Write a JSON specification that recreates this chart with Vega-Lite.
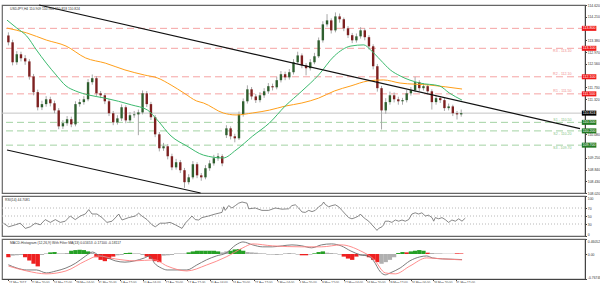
{
"$schema": "https://vega.github.io/schema/vega-lite/v6.json",
"padding": {"left": 0, "top": 2, "right": 0, "bottom": 0},
"spacing": 3,
"bounds": "flush",
"background": "white",
"config": {
  "view": {"stroke": "#666", "strokeWidth": 1.2},
  "font": "Liberation Sans",
  "axis": {"grid": false, "labelFont": "Liberation Sans", "labelColor": "#333", "tickColor": "#444", "domainColor": "#444", "labelFontSize": 3.4, "tickSize": 1.5, "labelPadding": 0.8, "labelOverlap": false, "labelFlush": false}
},
"datasets": {
  "candles": [
{"i":0,"o":113.55,"h":113.66,"l":113.2,"c":113.31},{"i":3,"o":113.31,"h":113.4,"l":112.5,"c":112.61},{"i":6,"o":112.61,"h":113.0,"l":112.52,"c":112.89},{"i":9,"o":112.89,"h":112.98,"l":112.64,"c":112.75},{"i":12,"o":112.75,"h":112.86,"l":112.52,"c":112.64},{"i":15,"o":112.64,"h":112.72,"l":112.0,"c":112.11},{"i":18,"o":112.11,"h":112.2,"l":111.45,"c":111.56},{"i":21,"o":111.56,"h":111.65,"l":110.92,"c":111.03},{"i":24,"o":111.03,"h":111.26,"l":110.93,"c":111.14},{"i":27,"o":111.14,"h":111.42,"l":111.05,"c":111.31},{"i":30,"o":111.31,"h":111.4,"l":111.06,"c":111.17},{"i":33,"o":111.17,"h":111.26,"l":110.82,"c":110.92},{"i":36,"o":110.92,"h":111.0,"l":110.26,"c":110.36},{"i":39,"o":110.36,"h":110.58,"l":110.27,"c":110.47},{"i":42,"o":110.47,"h":110.72,"l":110.38,"c":110.61},{"i":45,"o":110.61,"h":110.7,"l":110.33,"c":110.43},{"i":48,"o":110.43,"h":111.24,"l":110.36,"c":111.14},{"i":51,"o":111.14,"h":111.32,"l":111.05,"c":111.21},{"i":54,"o":111.21,"h":111.42,"l":111.12,"c":111.31},{"i":57,"o":111.31,"h":112.02,"l":111.24,"c":111.91},{"i":60,"o":111.91,"h":112.18,"l":111.82,"c":112.05},{"i":63,"o":112.05,"h":112.12,"l":111.43,"c":111.52},{"i":66,"o":111.52,"h":111.6,"l":111.35,"c":111.45},{"i":69,"o":111.45,"h":111.53,"l":111.14,"c":111.24},{"i":72,"o":111.24,"h":111.32,"l":110.72,"c":110.82},{"i":75,"o":110.82,"h":110.9,"l":110.4,"c":110.5},{"i":78,"o":110.5,"h":110.75,"l":110.42,"c":110.64},{"i":81,"o":110.64,"h":111.13,"l":110.55,"c":111.03},{"i":84,"o":111.03,"h":111.1,"l":110.47,"c":110.57},{"i":87,"o":110.57,"h":110.86,"l":110.48,"c":110.75},{"i":90,"o":110.75,"h":110.9,"l":110.66,"c":110.78},{"i":93,"o":110.78,"h":110.95,"l":110.05,"c":110.85},{"i":96,"o":110.85,"h":111.62,"l":110.78,"c":111.52},{"i":99,"o":111.52,"h":111.6,"l":111.04,"c":111.14},{"i":102,"o":111.14,"h":111.22,"l":110.58,"c":110.68},{"i":105,"o":110.68,"h":110.76,"l":109.98,"c":110.08},{"i":108,"o":110.08,"h":110.16,"l":109.48,"c":109.59},{"i":111,"o":109.59,"h":109.78,"l":109.5,"c":109.66},{"i":114,"o":109.66,"h":109.74,"l":109.2,"c":109.31},{"i":117,"o":109.31,"h":109.4,"l":108.82,"c":108.92},{"i":120,"o":108.92,"h":109.22,"l":108.84,"c":109.1},{"i":123,"o":109.1,"h":109.18,"l":108.72,"c":108.82},{"i":126,"o":108.82,"h":108.9,"l":108.2,"c":108.4},{"i":129,"o":108.4,"h":108.68,"l":108.32,"c":108.57},{"i":132,"o":108.57,"h":109.14,"l":108.5,"c":109.03},{"i":135,"o":109.03,"h":109.1,"l":108.54,"c":108.64},{"i":138,"o":108.64,"h":108.72,"l":108.45,"c":108.57},{"i":141,"o":108.57,"h":109.0,"l":108.5,"c":108.89},{"i":144,"o":108.89,"h":109.17,"l":108.8,"c":109.06},{"i":147,"o":109.06,"h":109.36,"l":108.98,"c":109.24},{"i":150,"o":109.24,"h":109.42,"l":109.15,"c":109.31},{"i":153,"o":109.31,"h":109.38,"l":108.96,"c":109.06},{"i":156,"o":110.05,"h":110.4,"l":109.95,"c":110.29},{"i":159,"o":110.29,"h":110.36,"l":109.9,"c":110.01},{"i":162,"o":110.01,"h":110.1,"l":109.8,"c":109.94},{"i":165,"o":109.94,"h":110.88,"l":109.88,"c":110.78},{"i":168,"o":110.78,"h":111.34,"l":110.7,"c":111.24},{"i":171,"o":111.24,"h":111.8,"l":111.16,"c":111.66},{"i":174,"o":111.66,"h":111.74,"l":111.3,"c":111.41},{"i":177,"o":111.41,"h":111.5,"l":111.18,"c":111.28},{"i":180,"o":111.28,"h":111.56,"l":111.2,"c":111.45},{"i":183,"o":111.45,"h":111.7,"l":111.36,"c":111.59},{"i":186,"o":111.59,"h":111.88,"l":111.5,"c":111.77},{"i":189,"o":111.77,"h":111.86,"l":111.62,"c":111.73},{"i":192,"o":111.73,"h":112.1,"l":111.66,"c":111.98},{"i":195,"o":111.98,"h":112.3,"l":111.9,"c":112.19},{"i":198,"o":112.19,"h":112.28,"l":111.98,"c":112.08},{"i":201,"o":112.08,"h":112.37,"l":112.0,"c":112.26},{"i":204,"o":112.26,"h":112.72,"l":112.18,"c":112.61},{"i":207,"o":112.61,"h":112.98,"l":112.54,"c":112.85},{"i":210,"o":112.85,"h":112.92,"l":112.4,"c":112.5},{"i":213,"o":112.5,"h":112.58,"l":112.15,"c":112.4},{"i":216,"o":112.4,"h":112.72,"l":112.32,"c":112.61},{"i":219,"o":112.61,"h":112.94,"l":112.54,"c":112.82},{"i":222,"o":112.82,"h":113.48,"l":112.76,"c":113.38},{"i":225,"o":113.38,"h":114.05,"l":113.3,"c":113.94},{"i":228,"o":113.94,"h":114.3,"l":113.86,"c":114.08},{"i":231,"o":114.08,"h":114.15,"l":113.62,"c":113.73},{"i":234,"o":113.73,"h":114.36,"l":113.66,"c":114.22},{"i":237,"o":114.22,"h":114.32,"l":114.0,"c":114.12},{"i":240,"o":114.12,"h":114.18,"l":113.7,"c":113.8},{"i":243,"o":113.8,"h":113.88,"l":113.46,"c":113.56},{"i":246,"o":113.56,"h":113.64,"l":113.28,"c":113.38},{"i":249,"o":113.38,"h":113.62,"l":113.3,"c":113.52},{"i":252,"o":113.52,"h":113.84,"l":113.44,"c":113.73},{"i":255,"o":113.73,"h":113.8,"l":113.38,"c":113.49},{"i":258,"o":113.49,"h":113.56,"l":113.06,"c":113.17},{"i":261,"o":113.17,"h":113.24,"l":112.36,"c":112.47},{"i":264,"o":112.47,"h":112.55,"l":111.58,"c":111.7},{"i":267,"o":111.7,"h":111.78,"l":110.25,"c":110.92},{"i":270,"o":110.92,"h":111.35,"l":110.8,"c":111.21},{"i":273,"o":111.21,"h":111.58,"l":111.12,"c":111.45},{"i":276,"o":111.45,"h":111.55,"l":111.2,"c":111.31},{"i":279,"o":111.31,"h":111.4,"l":111.12,"c":111.24},{"i":282,"o":111.24,"h":111.36,"l":111.12,"c":111.28},{"i":285,"o":111.28,"h":111.64,"l":111.2,"c":111.52},{"i":288,"o":111.52,"h":111.74,"l":111.44,"c":111.63},{"i":291,"o":111.63,"h":112.1,"l":111.56,"c":111.91},{"i":294,"o":111.91,"h":111.98,"l":111.6,"c":111.7},{"i":297,"o":111.7,"h":111.88,"l":111.62,"c":111.77},{"i":300,"o":111.77,"h":111.84,"l":111.48,"c":111.59},{"i":303,"o":111.59,"h":111.66,"l":110.95,"c":111.21},{"i":306,"o":111.21,"h":111.46,"l":111.12,"c":111.35},{"i":309,"o":111.35,"h":111.42,"l":111.18,"c":111.28},{"i":312,"o":111.28,"h":111.36,"l":110.9,"c":111.0},{"i":315,"o":111.0,"h":111.16,"l":110.92,"c":111.06},{"i":318,"o":111.06,"h":111.12,"l":110.72,"c":110.82},{"i":321,"o":110.82,"h":110.9,"l":110.6,"c":110.78},{"i":324,"o":110.78,"h":110.95,"l":110.7,"c":110.824}
  ],
  "ma": [
{"ma":"slow","i":-1,"v":113.81},{"ma":"slow","i":13.1,"v":113.64},{"ma":"slow","i":27.1,"v":113.39},{"ma":"slow","i":41.2,"v":113.18},{"ma":"slow","i":55.3,"v":112.76},{"ma":"slow","i":69.3,"v":112.58},{"ma":"slow","i":83.4,"v":112.34},{"ma":"slow","i":97.5,"v":112.16},{"ma":"slow","i":106.6,"v":112.06},{"ma":"slow","i":116.4,"v":111.81},{"ma":"slow","i":125.6,"v":111.53},{"ma":"slow","i":134.7,"v":111.25},{"ma":"slow","i":139.6,"v":111.18},{"ma":"slow","i":153.7,"v":110.83},{"ma":"slow","i":162.9,"v":110.76},{"ma":"slow","i":174.8,"v":110.83},{"ma":"slow","i":186.8,"v":110.93},{"ma":"slow","i":198,"v":111.07},{"ma":"slow","i":210,"v":111.18},{"ma":"slow","i":221.9,"v":111.35},{"ma":"slow","i":233.2,"v":111.6},{"ma":"slow","i":245.1,"v":111.78},{"ma":"slow","i":257.1,"v":111.95},{"ma":"slow","i":268.3,"v":111.99},{"ma":"slow","i":280.3,"v":111.88},{"ma":"slow","i":301.4,"v":111.81},{"ma":"slow","i":324.6,"v":111.67},
{"ma":"fast","i":-1,"v":114.09},{"ma":"fast","i":6,"v":113.81},{"ma":"fast","i":13.1,"v":113.53},{"ma":"fast","i":20.1,"v":113.04},{"ma":"fast","i":27.1,"v":112.58},{"ma":"fast","i":34.2,"v":112.16},{"ma":"fast","i":41.2,"v":111.78},{"ma":"fast","i":48.2,"v":111.6},{"ma":"fast","i":57.4,"v":111.46},{"ma":"fast","i":69.3,"v":111.35},{"ma":"fast","i":88.3,"v":111.11},{"ma":"fast","i":99.6,"v":110.93},{"ma":"fast","i":106.6,"v":110.58},{"ma":"fast","i":116.4,"v":110.02},{"ma":"fast","i":127.7,"v":109.67},{"ma":"fast","i":139.6,"v":109.35},{"ma":"fast","i":153.7,"v":109.25},{"ma":"fast","i":162.9,"v":109.53},{"ma":"fast","i":174.8,"v":110.02},{"ma":"fast","i":186.8,"v":110.48},{"ma":"fast","i":198,"v":111.07},{"ma":"fast","i":210,"v":111.6},{"ma":"fast","i":221.9,"v":112.16},{"ma":"fast","i":233.2,"v":112.83},{"ma":"fast","i":245.1,"v":113.18},{"ma":"fast","i":254.3,"v":113.22},{"ma":"fast","i":259.2,"v":113.04},{"ma":"fast","i":266.2,"v":112.69},{"ma":"fast","i":273.3,"v":112.34},{"ma":"fast","i":280.3,"v":112.13},{"ma":"fast","i":294.4,"v":111.88},{"ma":"fast","i":308.4,"v":111.78},{"ma":"fast","i":315.5,"v":111.53},{"ma":"fast","i":324.6,"v":111.28}
  ],
  "trend": [
{"line":"a","i":22,"v":114.62},{"line":"a","i":409,"v":110.28},
{"line":"b","i":-1,"v":109.53},{"line":"b","i":137.5,"v":108.02}
  ],
  "levels": [
{"name":"","v":113.8,"kind":"res","lab":"113.800"},
{"name":"R3 - 113.10","v":113.1,"kind":"res","lab":"113.100"},
{"name":"R2 - 112.10","v":112.1,"kind":"res","lab":"112.100"},
{"name":"R1 - 111.50","v":111.5,"kind":"res","lab":"111.500"},
{"name":"S1 - 110.50","v":110.5,"kind":"sup","lab":"110.500"},
{"name":"S2 - 110.20","v":110.2,"kind":"sup","lab":"110.200"},
{"name":"S3 - 109.70","v":109.7,"kind":"sup","lab":"109.700"},
{"name":"","v":110.824,"kind":"cur","lab":"110.824"}
  ],
  "rsilev": [{"r":30},{"r":50},{"r":70}],
  "rsi": [
{"i":0,"r":32},{"i":3.7,"r":23},{"i":8.4,"r":28},{"i":11.9,"r":32},{"i":15.4,"r":19},{"i":18.9,"r":23},{"i":22.4,"r":32},{"i":25.9,"r":28},{"i":29.4,"r":41},{"i":33,"r":34},{"i":36.5,"r":41},{"i":40,"r":34},{"i":43.5,"r":37},{"i":47,"r":50},{"i":50.5,"r":41},{"i":54.1,"r":50},{"i":57.6,"r":55},{"i":60,"r":66},{"i":62.3,"r":55},{"i":65.8,"r":55},{"i":69.3,"r":46},{"i":72.8,"r":34},{"i":76.4,"r":37},{"i":79.9,"r":50},{"i":81.1,"r":55},{"i":83.4,"r":40},{"i":88.1,"r":46},{"i":92.7,"r":50},{"i":95.1,"r":57},{"i":97.4,"r":50},{"i":101,"r":41},{"i":104.5,"r":28},{"i":106.8,"r":23},{"i":110.3,"r":32},{"i":113.8,"r":32},{"i":117.3,"r":34},{"i":120.9,"r":28},{"i":125.6,"r":19},{"i":127.9,"r":32},{"i":130.3,"r":41},{"i":132.6,"r":50},{"i":134.9,"r":41},{"i":137.3,"r":40},{"i":139.6,"r":46},{"i":144.3,"r":50},{"i":149,"r":55},{"i":153.7,"r":59},{"i":154.9,"r":73},{"i":156,"r":64},{"i":158.4,"r":76},{"i":160.7,"r":70},{"i":163.1,"r":76},{"i":165.4,"r":82},{"i":167.8,"r":85},{"i":171.3,"r":82},{"i":172.5,"r":68},{"i":177.1,"r":70},{"i":181.8,"r":64},{"i":186.5,"r":64},{"i":191.2,"r":70},{"i":195.9,"r":67},{"i":200.6,"r":68},{"i":202.9,"r":76},{"i":205.3,"r":78},{"i":207.6,"r":70},{"i":210,"r":60},{"i":212.3,"r":59},{"i":214.7,"r":64},{"i":217,"r":61},{"i":219.3,"r":64},{"i":221.7,"r":73},{"i":224,"r":78},{"i":225.2,"r":85},{"i":226.3,"r":79},{"i":228.7,"r":73},{"i":231,"r":76},{"i":233.4,"r":78},{"i":235.8,"r":73},{"i":238.1,"r":64},{"i":240.4,"r":55},{"i":242.8,"r":46},{"i":245.1,"r":43},{"i":247.4,"r":46},{"i":249.8,"r":50},{"i":251,"r":55},{"i":252.2,"r":50},{"i":254.5,"r":43},{"i":256.9,"r":37},{"i":259.2,"r":28},{"i":261.5,"r":19},{"i":262.7,"r":14},{"i":263.9,"r":19},{"i":266.2,"r":23},{"i":267.4,"r":28},{"i":268.5,"r":37},{"i":270.9,"r":37},{"i":273.2,"r":34},{"i":275.6,"r":40},{"i":278,"r":37},{"i":280.3,"r":40},{"i":282.6,"r":37},{"i":285,"r":41},{"i":287.3,"r":55},{"i":289.6,"r":58},{"i":292,"r":55},{"i":294.3,"r":58},{"i":296.7,"r":50},{"i":299,"r":52},{"i":301.4,"r":46},{"i":302.6,"r":37},{"i":303.7,"r":46},{"i":306.1,"r":43},{"i":308.4,"r":46},{"i":310.7,"r":41},{"i":313.1,"r":34},{"i":315.4,"r":40},{"i":317.8,"r":37},{"i":320.2,"r":43},{"i":322.5,"r":37},{"i":324.8,"r":44.7}
  ],
  "macd": [
{"s":"macd","i":0,"v":-0.33},{"s":"macd","i":6,"v":-0.43},{"s":"macd","i":13.1,"v":-0.49},{"s":"macd","i":20.1,"v":-0.49},{"s":"macd","i":27.1,"v":-0.58},{"s":"macd","i":34.2,"v":-0.52},{"s":"macd","i":41.2,"v":-0.43},{"s":"macd","i":48.2,"v":-0.28},{"s":"macd","i":55.3,"v":-0.06},{"s":"macd","i":60.2,"v":0.06},{"s":"macd","i":64.4,"v":-0.03},{"s":"macd","i":69.3,"v":-0.09},{"s":"macd","i":76.4,"v":-0.21},{"s":"macd","i":83.4,"v":-0.25},{"s":"macd","i":90.4,"v":-0.21},{"s":"macd","i":97.4,"v":-0.12},{"s":"macd","i":101,"v":-0.06},{"s":"macd","i":104.5,"v":-0.28},{"s":"macd","i":109.4,"v":-0.43},{"s":"macd","i":113.6,"v":-0.49},{"s":"macd","i":120.7,"v":-0.49},{"s":"macd","i":127.7,"v":-0.49},{"s":"macd","i":134.7,"v":-0.34},{"s":"macd","i":141.7,"v":-0.18},{"s":"macd","i":148.8,"v":-0.06},{"s":"macd","i":155.8,"v":0.03},{"s":"macd","i":162.8,"v":0.28},{"s":"macd","i":167.8,"v":0.37},{"s":"macd","i":174.8,"v":0.28},{"s":"macd","i":181.8,"v":0.22},{"s":"macd","i":188.9,"v":0.22},{"s":"macd","i":195.9,"v":0.25},{"s":"macd","i":202.9,"v":0.28},{"s":"macd","i":210,"v":0.25},{"s":"macd","i":217,"v":0.19},{"s":"macd","i":224,"v":0.28},{"s":"macd","i":231.1,"v":0.31},{"s":"macd","i":238.1,"v":0.25},{"s":"macd","i":245.1,"v":0.09},{"s":"macd","i":252.2,"v":-0.03},{"s":"macd","i":257.1,"v":-0.06},{"s":"macd","i":261.3,"v":-0.21},{"s":"macd","i":266.2,"v":-0.55},{"s":"macd","i":269.7,"v":-0.64},{"s":"macd","i":273.2,"v":-0.58},{"s":"macd","i":280.3,"v":-0.43},{"s":"macd","i":287.3,"v":-0.21},{"s":"macd","i":294.3,"v":-0.09},{"s":"macd","i":299.3,"v":-0.06},{"s":"macd","i":303.5,"v":-0.12},{"s":"macd","i":310.5,"v":-0.15},{"s":"macd","i":317.5,"v":-0.16},{"s":"macd","i":324.6,"v":-0.171},
{"s":"signal","i":0,"v":-0.37},{"s":"signal","i":13.1,"v":-0.52},{"s":"signal","i":27.1,"v":-0.61},{"s":"signal","i":41.2,"v":-0.52},{"s":"signal","i":55.3,"v":-0.21},{"s":"signal","i":64.4,"v":-0.06},{"s":"signal","i":76.4,"v":-0.15},{"s":"signal","i":90.4,"v":-0.21},{"s":"signal","i":104.5,"v":-0.18},{"s":"signal","i":113.6,"v":-0.37},{"s":"signal","i":127.7,"v":-0.52},{"s":"signal","i":141.7,"v":-0.34},{"s":"signal","i":155.8,"v":-0.09},{"s":"signal","i":167.8,"v":0.19},{"s":"signal","i":174.8,"v":0.31},{"s":"signal","i":188.9,"v":0.25},{"s":"signal","i":210,"v":0.22},{"s":"signal","i":224,"v":0.22},{"s":"signal","i":238.1,"v":0.28},{"s":"signal","i":252.2,"v":0.09},{"s":"signal","i":261.3,"v":-0.15},{"s":"signal","i":269.7,"v":-0.58},{"s":"signal","i":276.8,"v":-0.61},{"s":"signal","i":287.3,"v":-0.37},{"s":"signal","i":299.3,"v":-0.12},{"s":"signal","i":310.5,"v":-0.15},{"s":"signal","i":324.6,"v":-0.181}
  ],
  "hist": [
{"i":0,"h":-0.1,"col":"down"},{"i":3,"h":-0.05,"col":"flat"},{"i":6,"h":-0.04,"col":"flat"},{"i":9,"h":-0.03,"col":"flat"},{"i":12,"h":-0.1,"col":"down"},{"i":15,"h":-0.2,"col":"down"},{"i":18,"h":-0.3,"col":"down"},{"i":21,"h":-0.38,"col":"down"},{"i":24,"h":-0.03,"col":"flat"},{"i":27,"h":0.02,"col":"flat"},{"i":30,"h":0.05,"col":"up"},{"i":33,"h":0.06,"col":"up"},{"i":36,"h":0.02,"col":"flat"},{"i":39,"h":0.02,"col":"flat"},{"i":42,"h":0.03,"col":"flat"},{"i":45,"h":0.1,"col":"up"},{"i":48,"h":0.12,"col":"up"},{"i":51,"h":0.13,"col":"up"},{"i":54,"h":0.12,"col":"up"},{"i":57,"h":0.08,"col":"up"},{"i":60,"h":0.03,"col":"flat"},{"i":63,"h":-0.1,"col":"down"},{"i":66,"h":-0.18,"col":"down"},{"i":69,"h":-0.22,"col":"down"},{"i":72,"h":-0.15,"col":"down"},{"i":75,"h":-0.08,"col":"down"},{"i":78,"h":-0.04,"col":"flat"},{"i":81,"h":-0.03,"col":"flat"},{"i":84,"h":0.03,"col":"up"},{"i":87,"h":0.04,"col":"up"},{"i":90,"h":0.02,"col":"flat"},{"i":93,"h":0.02,"col":"flat"},{"i":96,"h":-0.03,"col":"flat"},{"i":99,"h":-0.08,"col":"down"},{"i":102,"h":-0.15,"col":"down"},{"i":105,"h":-0.22,"col":"down"},{"i":108,"h":-0.25,"col":"down"},{"i":111,"h":-0.05,"col":"flat"},{"i":114,"h":-0.04,"col":"flat"},{"i":117,"h":-0.03,"col":"flat"},{"i":120,"h":0.02,"col":"flat"},{"i":123,"h":0.02,"col":"flat"},{"i":126,"h":0.02,"col":"flat"},{"i":129,"h":0.05,"col":"up"},{"i":132,"h":0.08,"col":"up"},{"i":135,"h":0.1,"col":"up"},{"i":138,"h":0.1,"col":"up"},{"i":141,"h":0.1,"col":"up"},{"i":144,"h":0.1,"col":"up"},{"i":147,"h":0.1,"col":"up"},{"i":150,"h":0.08,"col":"up"},{"i":153,"h":0.05,"col":"flat"},{"i":156,"h":0.08,"col":"flat"},{"i":159,"h":0.1,"col":"up"},{"i":162,"h":0.14,"col":"up"},{"i":165,"h":0.15,"col":"up"},{"i":168,"h":0.1,"col":"up"},{"i":171,"h":0.06,"col":"flat"},{"i":174,"h":0.05,"col":"flat"},{"i":177,"h":0.04,"col":"flat"},{"i":180,"h":0.02,"col":"flat"},{"i":183,"h":0.02,"col":"flat"},{"i":186,"h":-0.02,"col":"flat"},{"i":189,"h":-0.02,"col":"flat"},{"i":192,"h":-0.03,"col":"flat"},{"i":195,"h":-0.02,"col":"flat"},{"i":198,"h":0.02,"col":"flat"},{"i":201,"h":0.03,"col":"flat"},{"i":204,"h":0.02,"col":"flat"},{"i":207,"h":-0.02,"col":"flat"},{"i":210,"h":-0.04,"col":"down"},{"i":213,"h":-0.04,"col":"down"},{"i":216,"h":-0.02,"col":"flat"},{"i":219,"h":0.02,"col":"up"},{"i":222,"h":0.06,"col":"up"},{"i":225,"h":0.08,"col":"up"},{"i":228,"h":0.04,"col":"flat"},{"i":231,"h":0.03,"col":"flat"},{"i":234,"h":0.02,"col":"flat"},{"i":237,"h":-0.02,"col":"flat"},{"i":240,"h":-0.08,"col":"down"},{"i":243,"h":-0.14,"col":"down"},{"i":246,"h":-0.18,"col":"down"},{"i":249,"h":-0.08,"col":"down"},{"i":252,"h":-0.05,"col":"flat"},{"i":255,"h":-0.06,"col":"flat"},{"i":258,"h":-0.1,"col":"down"},{"i":261,"h":-0.18,"col":"down"},{"i":264,"h":-0.25,"col":"down"},{"i":267,"h":-0.3,"col":"flat"},{"i":270,"h":-0.25,"col":"flat"},{"i":273,"h":-0.18,"col":"flat"},{"i":276,"h":-0.1,"col":"flat"},{"i":279,"h":0.03,"col":"up"},{"i":282,"h":0.06,"col":"up"},{"i":285,"h":0.05,"col":"down"},{"i":288,"h":0.08,"col":"up"},{"i":291,"h":0.1,"col":"up"},{"i":294,"h":0.12,"col":"up"},{"i":297,"h":0.1,"col":"up"},{"i":300,"h":0.04,"col":"down"},{"i":303,"h":0.03,"col":"flat"},{"i":306,"h":0.02,"col":"flat"},{"i":309,"h":0.02,"col":"flat"},{"i":312,"h":0.01,"col":"flat"},{"i":315,"h":0.01,"col":"flat"},{"i":318,"h":0.01,"col":"flat"},{"i":321,"h":0.02,"col":"down"},{"i":324,"h":0.0165,"col":"down"}
  ]
},
"vconcat": [
{
  "width": 583, "height": 188,
  "resolve": {"scale": {"color": "independent"}},
  "layer": [
    {"data": {"name": "levels"}, "transform": [{"filter": "datum.kind != 'cur'"}],
     "mark": {"type": "rule", "strokeDash": [7, 4], "strokeWidth": 1},
     "encoding": {
       "y": {"field": "v", "type": "quantitative", "title": null, "scale": {"domain": [108.02, 114.62], "nice": false, "zero": false},
             "axis": {"orient": "right", "title": null, "format": ".3f", "values": [108.02, 108.43, 108.84, 109.25, 110.08, 111.32, 111.73, 112.56, 112.97, 113.38, 114.21, 114.62]}},
       "color": {"field": "kind", "type": "nominal", "scale": {"domain": ["res", "sup"], "range": ["#f5a3a3", "#a3d3a3"]}, "legend": null}}},
    {"data": {"name": "levels"}, "transform": [{"filter": "datum.kind == 'cur'"}],
     "mark": {"type": "rule", "color": "#c4c4c4", "strokeWidth": 1},
     "encoding": {"y": {"field": "v", "type": "quantitative", "title": null, "scale": {"domain": [108.02, 114.62], "nice": false, "zero": false},
             "axis": {"orient": "right", "title": null, "format": ".3f", "values": [108.02, 108.43, 108.84, 109.25, 110.08, 111.32, 111.73, 112.56, 112.97, 113.38, 114.21, 114.62]}}}},
    {"data": {"name": "candles"},
     "mark": {"type": "rule", "color": "#a8a8a8", "strokeWidth": 1},
     "encoding": {
       "x": {"field": "i", "type": "quantitative", "title": null, "axis": null, "scale": {"domain": [-1, 409], "nice": false, "zero": false}},
       "y": {"field": "l", "type": "quantitative", "title": null, "scale": {"domain": [108.02, 114.62], "nice": false, "zero": false},
             "axis": {"orient": "right", "title": null, "format": ".3f", "values": [108.02, 108.43, 108.84, 109.25, 110.08, 111.32, 111.73, 112.56, 112.97, 113.38, 114.21, 114.62]}},
       "y2": {"field": "h"}}},
    {"data": {"name": "candles"},
     "mark": {"type": "bar", "orient": "vertical", "size": 2.4},
     "encoding": {
       "x": {"field": "i", "type": "quantitative", "title": null, "axis": null, "scale": {"domain": [-1, 409], "nice": false, "zero": false}},
       "y": {"field": "o", "type": "quantitative", "title": null, "scale": {"domain": [108.02, 114.62], "nice": false, "zero": false},
             "axis": {"orient": "right", "title": null, "format": ".3f", "values": [108.02, 108.43, 108.84, 109.25, 110.08, 111.32, 111.73, 112.56, 112.97, 113.38, 114.21, 114.62]}},
       "y2": {"field": "c"},
       "color": {"condition": {"test": "datum.c >= datum.o", "value": "#2f5f2f"}, "value": "#7d2020"}}},
    {"data": {"name": "ma"},
     "mark": {"type": "line", "strokeWidth": 1, "interpolate": "monotone"},
     "encoding": {
       "x": {"field": "i", "type": "quantitative", "title": null, "axis": null, "scale": {"domain": [-1, 409], "nice": false, "zero": false}},
       "y": {"field": "v", "type": "quantitative", "title": null, "scale": {"domain": [108.02, 114.62], "nice": false, "zero": false},
             "axis": {"orient": "right", "title": null, "format": ".3f", "values": [108.02, 108.43, 108.84, 109.25, 110.08, 111.32, 111.73, 112.56, 112.97, 113.38, 114.21, 114.62]}},
       "color": {"field": "ma", "type": "nominal", "scale": {"domain": ["fast", "slow"], "range": ["#3cba6e", "#ff9f1a"]}, "legend": null}}},
    {"data": {"name": "trend"},
     "mark": {"type": "line", "strokeWidth": 1.2, "color": "#111"},
     "encoding": {
       "x": {"field": "i", "type": "quantitative", "title": null, "axis": null, "scale": {"domain": [-1, 409], "nice": false, "zero": false}},
       "y": {"field": "v", "type": "quantitative", "title": null, "scale": {"domain": [108.02, 114.62], "nice": false, "zero": false},
             "axis": {"orient": "right", "title": null, "format": ".3f", "values": [108.02, 108.43, 108.84, 109.25, 110.08, 111.32, 111.73, 112.56, 112.97, 113.38, 114.21, 114.62]}},
       "detail": {"field": "line", "type": "nominal"}}},
    {"data": {"name": "levels"}, "transform": [{"filter": "indexof(['R1 - 111.50','R2 - 112.10','S1 - 110.50'], datum.name) >= 0"}],
     "mark": {"type": "text", "align": "right", "baseline": "bottom", "dy": -0.5, "fontSize": 3.6},
     "encoding": {
       "x": {"datum": 403, "type": "quantitative", "axis": null, "scale": {"domain": [-1, 409], "nice": false, "zero": false}},
       "y": {"field": "v", "type": "quantitative", "title": null, "scale": {"domain": [108.02, 114.62], "nice": false, "zero": false},
             "axis": {"orient": "right", "title": null, "format": ".3f", "values": [108.02, 108.43, 108.84, 109.25, 110.08, 111.32, 111.73, 112.56, 112.97, 113.38, 114.21, 114.62]}},
       "text": {"field": "name"},
       "color": {"field": "kind", "type": "nominal", "scale": {"domain": ["res", "sup"], "range": ["#ef8c8c", "#86c486"]}, "legend": null}}},
    {"data": {"name": "levels"}, "transform": [{"filter": "indexof(['R3 - 113.10','S2 - 110.20','S3 - 109.70'], datum.name) >= 0"}],
     "mark": {"type": "text", "align": "right", "baseline": "top", "dy": 1, "fontSize": 3.6},
     "encoding": {
       "x": {"datum": 403, "type": "quantitative", "axis": null, "scale": {"domain": [-1, 409], "nice": false, "zero": false}},
       "y": {"field": "v", "type": "quantitative", "title": null, "scale": {"domain": [108.02, 114.62], "nice": false, "zero": false},
             "axis": {"orient": "right", "title": null, "format": ".3f", "values": [108.02, 108.43, 108.84, 109.25, 110.08, 111.32, 111.73, 112.56, 112.97, 113.38, 114.21, 114.62]}},
       "text": {"field": "name"},
       "color": {"field": "kind", "type": "nominal", "scale": {"domain": ["res", "sup"], "range": ["#ef8c8c", "#86c486"]}, "legend": null}}},
    {"data": {"name": "levels"},
     "mark": {"type": "tick", "orient": "horizontal", "size": 14.5, "thickness": 5, "clip": false, "opacity": 1},
     "encoding": {
       "x": {"datum": 415.5, "type": "quantitative", "axis": null, "scale": {"domain": [-1, 409], "nice": false, "zero": false}},
       "y": {"field": "v", "type": "quantitative", "title": null, "scale": {"domain": [108.02, 114.62], "nice": false, "zero": false},
             "axis": {"orient": "right", "title": null, "format": ".3f", "values": [108.02, 108.43, 108.84, 109.25, 110.08, 111.32, 111.73, 112.56, 112.97, 113.38, 114.21, 114.62]}},
       "color": {"field": "kind", "type": "nominal", "scale": {"domain": ["res", "sup", "cur"], "range": ["#f01818", "#237a23", "#000000"]}, "legend": null}}},
    {"data": {"name": "levels"},
     "mark": {"type": "text", "align": "center", "baseline": "middle", "fontSize": 3.6, "color": "white", "clip": false},
     "encoding": {
       "x": {"datum": 415.5, "type": "quantitative", "axis": null, "scale": {"domain": [-1, 409], "nice": false, "zero": false}},
       "y": {"field": "v", "type": "quantitative", "title": null, "scale": {"domain": [108.02, 114.62], "nice": false, "zero": false},
             "axis": {"orient": "right", "title": null, "format": ".3f", "values": [108.02, 108.43, 108.84, 109.25, 110.08, 111.32, 111.73, 112.56, 112.97, 113.38, 114.21, 114.62]}},
       "text": {"field": "lab"}}},
    {"data": {"values": [{"t": "USDJPY,H4  110.909 110.960 110.818 110.824"}]},
     "mark": {"type": "text", "align": "left", "baseline": "top", "dx": 3, "dy": 2, "fontSize": 3.4, "color": "#333"},
     "encoding": {
       "x": {"datum": -1, "type": "quantitative", "axis": null, "scale": {"domain": [-1, 409], "nice": false, "zero": false}},
       "y": {"datum": 114.62, "type": "quantitative", "scale": {"domain": [108.02, 114.62], "nice": false, "zero": false},
             "axis": {"orient": "right", "title": null, "format": ".3f", "values": [108.02, 108.43, 108.84, 109.25, 110.08, 111.32, 111.73, 112.56, 112.97, 113.38, 114.21, 114.62]}},
       "text": {"field": "t"}}}
  ]
},
{
  "width": 583, "height": 40,
  "layer": [
    {"data": {"name": "rsilev"},
     "mark": {"type": "rule", "strokeDash": [1, 2], "color": "#b8b8b8", "strokeWidth": 1},
     "encoding": {"y": {"field": "r", "type": "quantitative", "title": null, "scale": {"domain": [0, 100], "nice": false},
       "axis": {"orient": "right", "title": null, "values": [0, 30, 50, 70, 100], "format": "d", "labelFlush": true}}}},
    {"data": {"name": "rsi"},
     "mark": {"type": "line", "color": "#6a6a6a", "strokeWidth": 0.8},
     "encoding": {
       "x": {"field": "i", "type": "quantitative", "title": null, "axis": null, "scale": {"domain": [-1, 409], "nice": false, "zero": false}},
       "y": {"field": "r", "type": "quantitative", "title": null, "scale": {"domain": [0, 100], "nice": false},
             "axis": {"orient": "right", "title": null, "values": [0, 30, 50, 70, 100], "format": "d", "labelFlush": true}}}},
    {"data": {"values": [{"t": "RSI(14) 44.7081"}]},
     "mark": {"type": "text", "align": "left", "baseline": "top", "dx": 3, "dy": 2, "fontSize": 3.4, "color": "#333"},
     "encoding": {
       "x": {"datum": -1, "type": "quantitative", "axis": null, "scale": {"domain": [-1, 409], "nice": false, "zero": false}},
       "y": {"datum": 100, "type": "quantitative", "scale": {"domain": [0, 100], "nice": false},
             "axis": {"orient": "right", "title": null, "values": [0, 30, 50, 70, 100], "format": "d", "labelFlush": true}},
       "text": {"field": "t"}}}
  ]
},
{
  "width": 583, "height": 40,
  "resolve": {"scale": {"color": "independent"}},
  "layer": [
    {"data": {"name": "hist"},
     "mark": {"type": "bar", "orient": "vertical", "size": 4.3},
     "encoding": {
       "x": {"field": "i", "type": "quantitative", "title": null, "scale": {"domain": [-1, 409], "nice": false, "zero": false},
             "axis": {"values": [0,16,32,48,64,80,96,112,128,144,160,176,192,208,224,240,256,272,288,304,320], "labelAlign": "left", "title": null, "labelFontSize": 3.1, "labelPadding": 0.5,
                      "labelExpr": "['17 Mar 2017','21 Mar 20:00','24 Mar 12:00','29 Mar 04:00','31 Mar 20:00','5 Apr 12:00','10 Apr 04:00','12 Apr 20:00','17 Apr 12:00','20 Apr 04:00','24 Apr 20:00','27 Apr 12:00','2 May 04:00','4 May 20:00','9 May 12:00','12 May 04:00','16 May 20:00','19 May 12:00','24 May 04:00','26 May 20:00','31 May 12:00'][round(datum.value/16)]"}},
       "y": {"field": "h", "type": "quantitative", "title": null, "scale": {"domain": [-0.76748, 0.46052], "nice": false, "zero": false},
             "axis": {"orient": "right", "title": null, "values": [-0.76748, 0, 0.46052], "labelFlush": true,
                      "labelExpr": "datum.value == 0 ? '0.00' : replace(format(datum.value, '.5f'), '\u2212', '-')"}},
       "color": {"field": "col", "type": "nominal", "scale": {"domain": ["up", "down", "flat"], "range": ["#25a025", "#ee2020", "#b0b0b0"]}, "legend": null}}},
    {"data": {"name": "macd"},
     "mark": {"type": "line", "strokeWidth": 0.9, "interpolate": "monotone"},
     "encoding": {
       "x": {"field": "i", "type": "quantitative", "title": null, "scale": {"domain": [-1, 409], "nice": false, "zero": false},
             "axis": {"values": [0,16,32,48,64,80,96,112,128,144,160,176,192,208,224,240,256,272,288,304,320], "labelAlign": "left", "title": null, "labelFontSize": 3.1, "labelPadding": 0.5,
                      "labelExpr": "['17 Mar 2017','21 Mar 20:00','24 Mar 12:00','29 Mar 04:00','31 Mar 20:00','5 Apr 12:00','10 Apr 04:00','12 Apr 20:00','17 Apr 12:00','20 Apr 04:00','24 Apr 20:00','27 Apr 12:00','2 May 04:00','4 May 20:00','9 May 12:00','12 May 04:00','16 May 20:00','19 May 12:00','24 May 04:00','26 May 20:00','31 May 12:00'][round(datum.value/16)]"}},
       "y": {"field": "v", "type": "quantitative", "title": null, "scale": {"domain": [-0.76748, 0.46052], "nice": false, "zero": false},
             "axis": {"orient": "right", "title": null, "values": [-0.76748, 0, 0.46052], "labelFlush": true,
                      "labelExpr": "datum.value == 0 ? '0.00' : replace(format(datum.value, '.5f'), '\u2212', '-')"}},
       "color": {"field": "s", "type": "nominal", "scale": {"domain": ["macd", "signal"], "range": ["#6e6e6e", "#ff8080"]}, "legend": null}}},
    {"data": {"values": [{"t": "MACD-Histogram (12,26,9) With Filter MA(13) 0.01653 -0.17100 -0.18117"}]},
     "mark": {"type": "text", "align": "left", "baseline": "top", "dx": 3, "dy": 2, "fontSize": 3.4, "color": "#333"},
     "encoding": {
       "x": {"datum": -1, "type": "quantitative", "scale": {"domain": [-1, 409], "nice": false, "zero": false},
             "axis": {"values": [0,16,32,48,64,80,96,112,128,144,160,176,192,208,224,240,256,272,288,304,320], "labelAlign": "left", "title": null, "labelFontSize": 3.1, "labelPadding": 0.5,
                      "labelExpr": "['17 Mar 2017','21 Mar 20:00','24 Mar 12:00','29 Mar 04:00','31 Mar 20:00','5 Apr 12:00','10 Apr 04:00','12 Apr 20:00','17 Apr 12:00','20 Apr 04:00','24 Apr 20:00','27 Apr 12:00','2 May 04:00','4 May 20:00','9 May 12:00','12 May 04:00','16 May 20:00','19 May 12:00','24 May 04:00','26 May 20:00','31 May 12:00'][round(datum.value/16)]"}},
       "y": {"datum": 0.46052, "type": "quantitative", "scale": {"domain": [-0.76748, 0.46052], "nice": false, "zero": false},
             "axis": {"orient": "right", "title": null, "values": [-0.76748, 0, 0.46052], "labelFlush": true,
                      "labelExpr": "datum.value == 0 ? '0.00' : replace(format(datum.value, '.5f'), '\u2212', '-')"}},
       "text": {"field": "t"}}}
  ]
}
]
}
